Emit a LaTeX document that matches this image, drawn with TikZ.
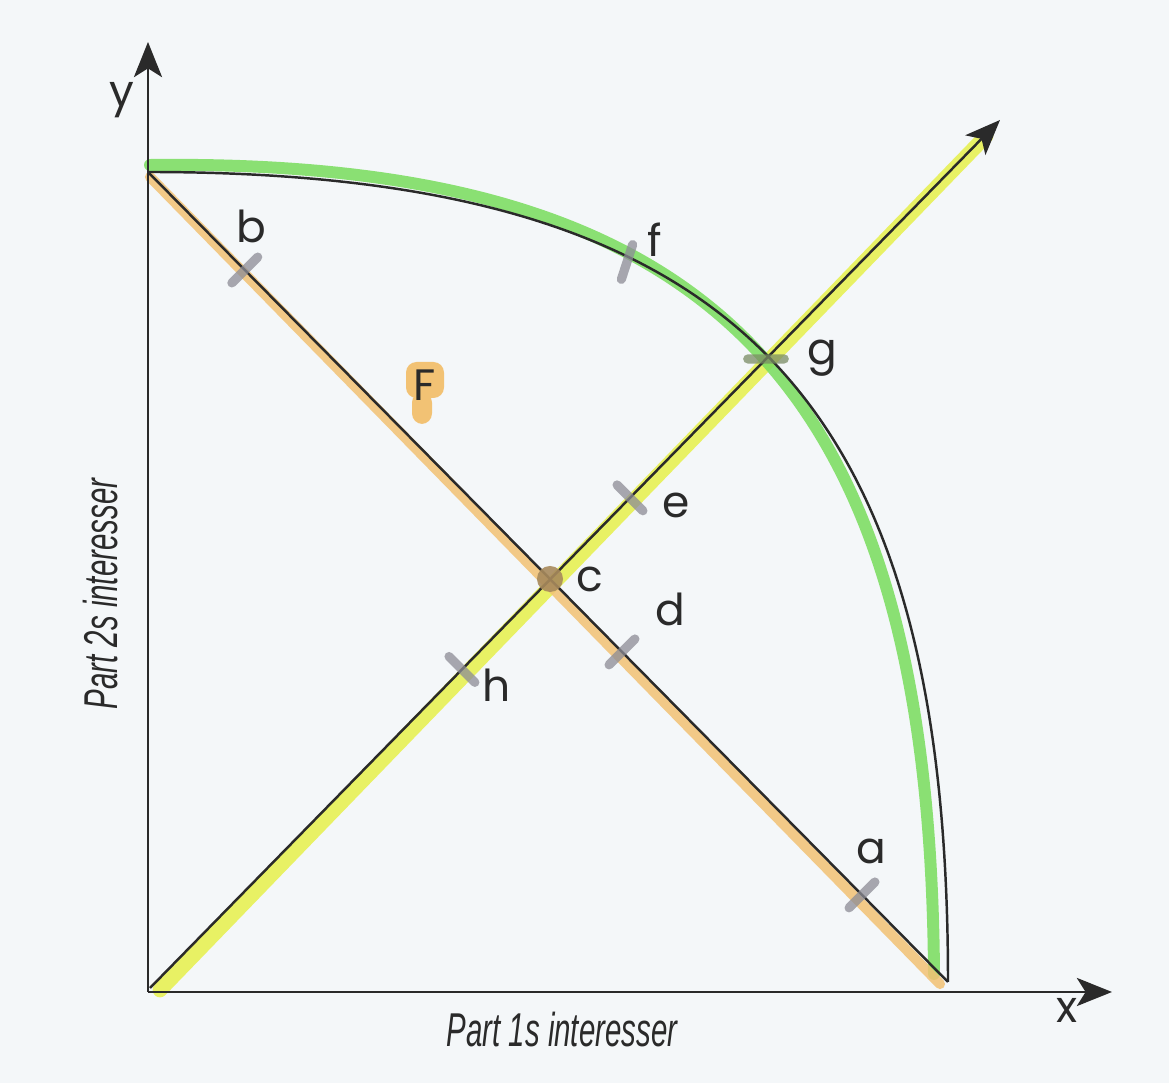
\documentclass[tikz,border=0pt]{standalone}
\usepackage{fontspec}
\setmainfont{Poppins}
\newfontfamily\axisfont[FakeStretch=0.62]{Liberation Sans}
\usetikzlibrary{arrows.meta,calc}
\definecolor{bg}{HTML}{F4F7F9}
\definecolor{hlyellow}{HTML}{E6F04A}
\definecolor{hlgreen}{HTML}{78DC5C}
\definecolor{hlorange}{HTML}{F2C274}
\definecolor{markgray}{HTML}{8C8C96}
\definecolor{markgreen}{HTML}{7A8C64}
\definecolor{dotbrown}{HTML}{A88A5C}
\definecolor{ink}{HTML}{2A2A2A}
\begin{document}
\begin{tikzpicture}[x=0.01cm,y=-0.01cm,
 axisline/.style={draw=ink,line width=0.7pt},
 arrowtip/.style={-{Stealth[length=10pt,width=8pt,inset=2.5pt]}},
 curveline/.style={draw=ink,line width=0.7pt},
 hlband/.style={line width=#1,line cap=round,opacity=0.85},
 tickbar/.style={shape=rectangle,draw=none,fill=markgray,fill opacity=0.75,rounded corners=1.3pt,minimum width=13pt,minimum height=2.6pt,inner sep=0pt},
 lbl/.style={font=\fontsize{12.5}{14}\selectfont,text=ink,inner sep=0pt},
 axlbl/.style={font=\axisfont\itshape\fontsize{13.5}{15}\selectfont,text=ink,inner sep=0pt},
]
\useasboundingbox (0,0) rectangle (1169,1083);
\fill[bg] (0,0) rectangle (1169,1083);

% key points
\coordinate (O) at (148,992);
\coordinate (Ytip) at (148,42);
\coordinate (Xtip) at (1112,992);
\coordinate (P) at (148,172);
\coordinate (Q) at (948,982);
\coordinate (Dstart) at (150,988);
\coordinate (Dtip) at (1000,120);

% highlight bands
\coordinate (yA) at (160,990);
\coordinate (yB) at (986,136);
\coordinate (gA) at (150,165);
\coordinate (gB) at (934,974);
\coordinate (oA) at (150,177);
\coordinate (oB) at (940,984);
\draw[hlband=4.2pt,hlyellow] (yA) -- (yB);
\draw[hlband=3.4pt,hlgreen] (gA) .. controls (720,158) and (930,390) .. (gB);
\draw[hlband=2.9pt,hlorange] (oA) -- (oB);

% F highlight blob
\fill[hlorange,rounded corners=3pt] (406,362) rectangle (444,398);
\fill[hlorange,rounded corners=3pt] (412,392) rectangle (432,424);

% black lines
\draw[curveline] (P) .. controls (732,172) and (948,391) .. (Q);
\draw[curveline] (P) -- (Q);
\draw[curveline,arrowtip] (Dstart) -- (Dtip);
\draw[axisline,arrowtip] (O) -- (Ytip);
\draw[axisline,arrowtip] (O) -- (Xtip);

% marks
\node[tickbar,rotate=45] (mb) at ($(P)!0.121!(Q)$) {};
\node[tickbar,rotate=45] (md) at ($(P)!0.5925!(Q)$) {};
\node[tickbar,rotate=45] (ma) at ($(P)!0.8925!(Q)$) {};
\node[tickbar,rotate=-45] (mh) at ($(Dstart)!0.367!(Dtip)$) {};
\node[tickbar,rotate=-45] (me) at ($(Dstart)!0.5647!(Dtip)$) {};
\node[tickbar,rotate=0,fill=markgreen] (mg) at ($(Dstart)!0.7247!(Dtip)$) {};
\node[tickbar,rotate=72] (mf) at (627,262) {};
\node[circle,fill=dotbrown,fill opacity=0.9,minimum size=7.4pt,inner sep=0pt] (cdot) at (550,579) {};

% labels
\node[lbl] (lb) at (251,226) {b};
\node[lbl] (lf) at (655,240) {f};
\node[lbl] (lg) at (822,358) {g};
\node[lbl] (le) at (676,505) {e};
\node[lbl] (lc) at (590,579) {c};
\node[lbl] (ld) at (670,609) {d};
\node[lbl] (lh) at (497,685) {h};
\node[lbl] (la) at (871,851) {a};
\node[lbl] (lF) at (425,385) {F};
\node[lbl] (ly) at (122,100) {y};
\node[lbl] (lx) at (1067,1010) {x};

\node[axlbl] (xlabel) at (562,1030) {Part 1s interesser};
\node[axlbl,rotate=90] (ylabel) at (101,594) {Part 2s interesser};
\end{tikzpicture}
\end{document}
